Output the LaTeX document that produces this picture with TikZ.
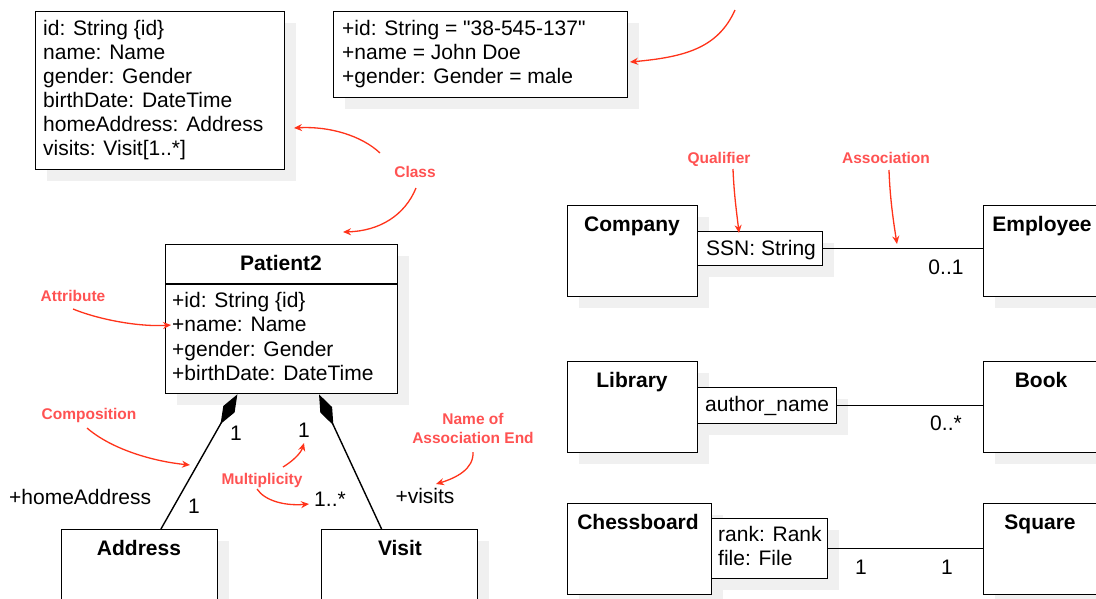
\documentclass[tikz,border=0pt]{standalone}
\usepackage{fontspec}
\setmainfont{Liberation Sans}
% same face without the TeX input mapping, so that " stays a straight quote
\newfontfamily\plainface{Liberation Sans}
\usetikzlibrary{arrows.meta,shadows,calc}
\definecolor{labelred}{RGB}{255,82,82}
\definecolor{arrowred}{RGB}{255,51,26}
\definecolor{shadowgray}{gray}{0.94}

\begin{document}
\begin{tikzpicture}[x=1pt,y=-1pt,
  box/.style={draw, line width=1.4pt, fill=white, inner sep=0pt, anchor=north west,
    general shadow={fill=shadowgray, shadow xshift=11pt, shadow yshift=-11pt}},
  txt/.style={font=\fontsize{21}{24}\selectfont, inner sep=0pt, anchor=base west},
  ctxt/.style={font=\fontsize{21}{24}\selectfont, inner sep=0pt, anchor=base},
  title/.style={font=\bfseries\fontsize{21}{24}\selectfont, inner sep=0pt, anchor=base},
  note/.style={font=\bfseries\fontsize{15.5}{18}\selectfont, text=labelred, inner sep=0pt, anchor=base},
  callout/.style={draw=arrowred, line width=1.3pt, -{Stealth[length=8pt,width=7pt]}},
  link/.style={draw, line width=1.4pt},
  comp/.style={link, {Diamond[length=34pt,width=13pt]}-}
]
\useasboundingbox (0,0) rectangle (1096,598);
\clip (0,0) rectangle (1096,598);

% ---------- attribute list (top left) ----------
\node[box, minimum width=249pt, minimum height=158pt] (attrbox) at (35,11) {};
\node[txt] (ab1) at (43,35)  {id: String \{id\}};
\node[txt] (ab2) at (43,59)  {name: Name};
\node[txt] (ab3) at (43,83)  {gender: Gender};
\node[txt] (ab4) at (43,107) {birthDate: DateTime};
\node[txt] (ab5) at (43,131) {homeAddress: Address};
\node[txt] (ab6) at (43,155) {visits: Visit[1..*]};

% ---------- instance slots (top middle) ----------
\node[box, minimum width=294pt, minimum height=86pt] (inst) at (333,11) {};
\node[txt, font=\plainface\fontsize{21}{24}\selectfont] (in1) at (342,35) {+id: String = "38-545-137"};
\node[txt] (in2) at (342,59) {+name = John Doe};
\node[txt] (in3) at (342,83) {+gender: Gender = male};

% ---------- Patient2 class ----------
\node[box, minimum width=232pt, minimum height=149pt] (patient) at (165,244) {};
\draw[line width=1.4pt] ($(patient.north west)+(0,40)$) coordinate (divl)
   -- ($(patient.north east)+(0,40)$) coordinate (divr);
\node[title] (ptitle) at (281,270) {Patient2};
\node[txt] (pa1) at (172,307) {+id: String \{id\}};
\node[txt] (pa2) at (172,331) {+name: Name};
\node[txt] (pa3) at (172,356) {+gender: Gender};
\node[txt] (pa4) at (172,380) {+birthDate: DateTime};

% ---------- Address and Visit ----------
\node[box, minimum width=156pt, minimum height=120pt] (address) at (61,529) {};
\node[title] (addrname) at (139,555) {Address};
\node[box, minimum width=156pt, minimum height=120pt] (visit) at (321,529) {};
\node[title] (visitname) at (400,555) {Visit};

% compositions
\coordinate (pleft)  at ($(patient.south west)!0.31!(patient.south east)$);
\coordinate (pright) at ($(patient.south west)!0.66!(patient.south east)$);
\coordinate (atop)   at ($(address.north west)!0.635!(address.north east)$);
\coordinate (vtop)   at ($(visit.north west)!0.385!(visit.north east)$);
\draw[comp] (pleft) -- (atop);
\draw[comp] (pright) -- (vtop);

\node[ctxt] (m1) at (236,440) {1};
\node[ctxt] (m2) at (194,513) {1};
\node[ctxt] (m3) at (304,437) {1};
\node[ctxt] (m4) at (330,506) {1..*};
\node[txt]  (homeaddr) at (9,504) {+homeAddress};
\node[ctxt] (visits) at (425,503) {+visits};

% ---------- Company / Employee ----------
\node[box, minimum width=130pt, minimum height=91pt] (company) at (567,205) {};
\node[title] (compname) at (632,231) {Company};
\node[box, minimum width=125pt, minimum height=34pt] (ssn) at (697,231) {};
\node[txt] (ssntext) at (706,255) {SSN: String};
\node[box, minimum width=160pt, minimum height=91pt] (employee) at (983,205) {};
\node[title] (empname) at (1042,231) {Employee};
\draw[link] (ssn.east) -- (ssn.east -| employee.west);
\node[ctxt] (m5) at (946,274) {0..1};

% ---------- Library / Book ----------
\node[box, minimum width=130pt, minimum height=91pt] (library) at (567,361) {};
\node[title] (libname) at (632,387) {Library};
\node[box, minimum width=139pt, minimum height=36pt] (author) at (697,387) {};
\node[txt] (authtext) at (705,411) {author\_name};
\node[box, minimum width=160pt, minimum height=91pt] (book) at (983,361) {};
\node[title] (bookname) at (1041,387) {Book};
\draw[link] (author.east) -- (author.east -| book.west);
\node[ctxt] (m6) at (946,430) {0..*};

% ---------- Chessboard / Square ----------
\node[box, minimum width=144pt, minimum height=91pt] (chess) at (567,503) {};
\node[title] (chessname) at (638,529) {Chessboard};
\node[box, minimum width=116pt, minimum height=60pt] (rankfile) at (711,518) {};
\node[txt] (rank) at (718,541) {rank: Rank};
\node[txt] (file) at (718,565) {file: File};
\node[box, minimum width=160pt, minimum height=91pt] (square) at (983,503) {};
\node[title] (sqname) at (1040,529) {Square};
\draw[link] (rankfile.east) -- (rankfile.east -| square.west);
\node[ctxt] (m7) at (861,574) {1};
\node[ctxt] (m8) at (947,574) {1};

% ---------- annotations ----------
\node[note] (nclass) at (415,177.5) {Class};
\node[note] (nattr) at (73,301.5) {Attribute};
\node[note] (ncomp) at (89,419.5) {Composition};
\node[note] (nmult) at (262,484.5) {Multiplicity};
\node[note] (nend1) at (473,424.5) {Name of};
\node[note] (nend2) at (473,443.5) {Association End};
\node[note] (nqual) at (719,163.5) {Qualifier};
\node[note] (nassoc) at (886,163.5) {Association};

\coordinate (topfree) at (735,10);
\coordinate (insttgt) at (630,62);
\draw[callout] (topfree) .. controls (718,48) and (685,57) .. (insttgt);

\coordinate (classA) at (380,153);
\coordinate (attrtgt) at (294,128);
\draw[callout] (classA) .. controls (362,136) and (330,126) .. (attrtgt);
\coordinate (classB) at (416,188);
\coordinate (pattgt) at (343,232);
\draw[callout] (classB) .. controls (405,215) and (380,231) .. (pattgt);

\coordinate (attrA) at (73,309);
\coordinate (nametgt) at (171,325);
\draw[callout] (attrA) .. controls (100,320) and (140,327) .. (nametgt);

\coordinate (compA) at (87,428);
\coordinate (comptgt) at (190,465);
\draw[callout] (compA) .. controls (110,448) and (150,461) .. (comptgt);

\coordinate (multA) at (283,467);
\coordinate (multtgtA) at (304,443);
\draw[callout] (multA) .. controls (293,461) and (301,453) .. (multtgtA);
\coordinate (multB) at (257,489);
\coordinate (multtgtB) at (309,504);
\draw[callout] (multB) .. controls (265,501) and (285,506) .. (multtgtB);

\coordinate (endA) at (473,452);
\coordinate (endtgt) at (436,484);
\draw[callout] (endA) .. controls (474,469) and (456,478) .. (endtgt);

\coordinate (qualA) at (733,169);
\coordinate (qualtgt) at (739,233);
\draw[callout] (qualA) .. controls (734,195) and (737,215) .. (qualtgt);

\coordinate (assocA) at (889,170);
\coordinate (assoctgt) at (897,244);
\draw[callout] (assocA) .. controls (890,200) and (894,225) .. (assoctgt);
\end{tikzpicture}
\end{document}
